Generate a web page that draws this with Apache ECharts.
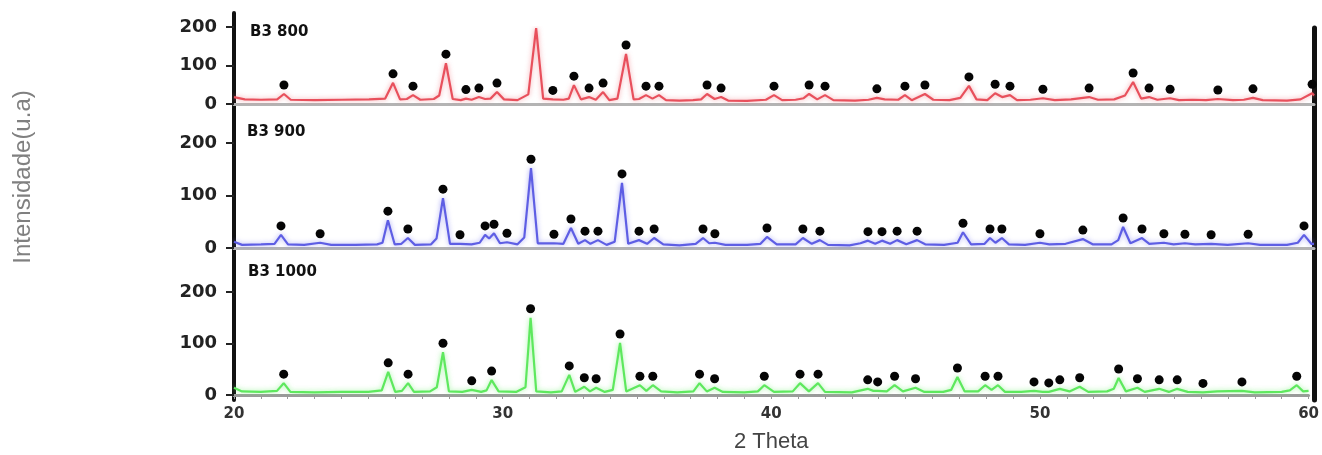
<!DOCTYPE html>
<html>
<head>
<meta charset="utf-8">
<script src="https://cdn.jsdelivr.net/npm/echarts@6/dist/echarts.min.js"></script>
<style>html,body{margin:0;padding:0;background:#fff;}#c{width:1322px;height:455px;}</style>
</head>
<body>
<div id="c"></div>
<script>
// ---- data ----
const panelNames = ['B3 800', 'B3 900', 'B3 1000'];
const yTicks = [0, 100, 200];
const xTickLabels = [20, 30, 40, 50, 60];

const profile800 = [[20.0,18],[20.4,12],[21.0,11],[21.6,12],[21.85,26],[22.1,11],[23,10],[24,11],[25,12],[25.6,14],[25.89,55],[26.15,12],[26.4,13],[26.63,23],[26.9,11],[27.4,13],[27.6,22],[27.85,106],[28.1,13],[28.4,10],[28.59,14],[28.8,11],[29.07,18],[29.3,13],[29.5,14],[29.74,31],[30.0,12],[30.5,10],[30.9,25],[31.19,197],[31.45,14],[31.81,12],[32.2,11],[32.4,14],[32.59,49],[32.85,12],[33.15,18],[33.4,11],[33.67,31],[33.9,10],[34.2,14],[34.52,130],[34.8,12],[35.0,13],[35.26,23],[35.5,14],[35.74,23],[36.0,10],[36.5,9],[37.0,10],[37.3,12],[37.52,26],[37.8,13],[38.04,18],[38.3,9],[39,8],[39.7,11],[40.0,23],[40.3,10],[40.8,11],[41.1,15],[41.30,26],[41.6,12],[41.89,23],[42.2,10],[43,9],[43.5,11],[43.81,16],[44.1,12],[44.6,11],[44.85,23],[45.1,10],[45.59,26],[45.9,11],[46.5,10],[46.9,16],[47.22,47],[47.5,12],[47.9,10],[48.19,28],[48.45,18],[48.74,23],[49.0,10],[49.5,11],[49.96,15],[50.4,10],[51,12],[51.67,18],[52.0,11],[52.6,12],[53.0,22],[53.30,57],[53.6,14],[53.89,18],[54.2,11],[54.67,15],[55.0,10],[55.5,11],[56,10],[56.44,13],[57,10],[57.4,11],[57.74,16],[58.1,10],[59,9],[59.5,12],[59.93,28],[60,22]];
const markers800 = [[21.85,26],[25.89,55],[26.63,23],[27.85,106],[28.59,14],[29.07,18],[29.74,31],[31.81,12],[32.59,49],[33.15,18],[33.67,31],[34.52,130],[35.26,23],[35.74,23],[37.52,26],[38.04,18],[40.0,23],[41.30,26],[41.89,23],[43.81,16],[44.85,23],[45.59,26],[47.22,47],[48.19,28],[48.74,23],[49.96,15],[51.67,18],[53.30,57],[53.89,18],[54.67,15],[56.44,13],[57.74,16],[59.93,28]];

const profile900 = [[20.0,12],[20.3,6],[21.0,7],[21.5,8],[21.74,25],[22.0,7],[22.6,6],[23.19,10],[23.6,6],[24.5,6],[25.3,7],[25.5,10],[25.70,53],[25.95,7],[26.2,8],[26.44,19],[26.7,6],[27.3,7],[27.5,18],[27.74,95],[28.0,8],[28.37,8],[28.8,7],[29.1,10],[29.30,25],[29.45,18],[29.63,28],[29.85,9],[30.11,11],[30.5,7],[30.75,20],[31.0,152],[31.25,9],[31.85,9],[32.2,8],[32.48,38],[32.75,8],[33.0,15],[33.2,8],[33.48,15],[33.8,6],[34.1,12],[34.37,124],[34.6,8],[35.0,15],[35.3,8],[35.56,19],[35.9,7],[36.5,5],[37.1,8],[37.37,19],[37.6,9],[37.81,10],[38.2,6],[39,6],[39.5,8],[39.74,21],[40.1,7],[40.8,7],[41.07,19],[41.4,8],[41.70,15],[42.0,6],[42.8,5],[43.2,9],[43.48,14],[43.75,8],[44.0,14],[44.3,8],[44.56,15],[44.9,7],[45.30,15],[45.6,7],[46.3,6],[46.8,10],[47.0,30],[47.3,7],[47.8,8],[48.0,19],[48.2,10],[48.44,19],[48.7,7],[49.3,6],[49.85,10],[50.2,7],[50.8,8],[51.44,17],[51.8,7],[52.5,7],[52.75,15],[52.93,40],[53.2,9],[53.63,19],[53.9,8],[54.44,10],[54.8,7],[55.22,9],[55.6,7],[56.19,8],[56.8,6],[57.56,9],[58,6],[59,6],[59.4,10],[59.63,25],[59.9,8],[60,8]];
const markers900 = [[21.74,25],[23.19,10],[25.70,53],[26.44,19],[27.74,95],[28.37,8],[29.30,25],[29.63,28],[30.11,11],[31.0,152],[31.85,9],[32.48,38],[33.0,15],[33.48,15],[34.37,124],[35.0,15],[35.56,19],[37.37,19],[37.81,10],[39.74,21],[41.07,19],[41.70,15],[43.48,14],[44.0,14],[44.56,15],[45.30,15],[47.0,30],[48.0,19],[48.44,19],[49.85,10],[51.44,17],[52.93,40],[53.63,19],[54.44,10],[55.22,9],[56.19,8],[57.56,9],[59.63,25]];

const profile1000 = [[20.0,14],[20.3,7],[21.0,6],[21.6,8],[21.85,23],[22.1,6],[23,5],[24,6],[25,6],[25.5,9],[25.74,45],[26.0,6],[26.25,8],[26.48,23],[26.7,6],[27.3,7],[27.55,15],[27.78,83],[28.0,7],[28.5,6],[28.85,10],[29.2,6],[29.4,9],[29.59,29],[29.85,7],[30.5,6],[30.85,15],[31.04,150],[31.25,7],[31.8,5],[32.2,7],[32.48,39],[32.7,6],[33.04,16],[33.25,7],[33.48,14],[33.8,6],[34.1,10],[34.37,101],[34.6,7],[35.11,19],[35.35,8],[35.59,19],[35.9,7],[36.5,5],[37.1,7],[37.33,23],[37.6,7],[37.89,14],[38.2,6],[39,5],[39.5,7],[39.74,19],[40.1,6],[40.8,7],[41.07,23],[41.4,7],[41.74,23],[42.0,6],[43,5],[43.59,12],[43.8,8],[43.96,8],[44.3,7],[44.59,19],[44.9,7],[45.37,14],[45.7,6],[46.4,6],[46.7,10],[46.93,35],[47.2,7],[47.7,7],[47.96,19],[48.2,10],[48.44,19],[48.7,6],[49.3,6],[49.78,8],[50.1,6],[50.33,6],[50.74,12],[51.1,7],[51.48,16],[51.8,6],[52.5,7],[52.75,12],[52.93,33],[53.2,7],[53.63,14],[53.9,6],[54.44,12],[54.8,6],[55.11,12],[55.5,6],[56.07,5],[56.6,7],[57.52,8],[58,5],[59,6],[59.3,9],[59.56,19],[59.8,7],[60,8]];
const markers1000 = [[21.85,23],[25.74,45],[26.48,23],[27.78,83],[28.85,10],[29.59,29],[31.04,150],[32.48,39],[33.04,16],[33.48,14],[34.37,101],[35.11,19],[35.59,19],[37.33,23],[37.89,14],[39.74,19],[41.07,23],[41.74,23],[43.59,12],[43.96,8],[44.59,19],[45.37,14],[46.93,35],[47.96,19],[48.44,19],[49.78,8],[50.33,6],[50.74,12],[51.48,16],[52.93,33],[53.63,14],[54.44,12],[55.11,12],[56.07,5],[57.52,8],[59.56,19]];

// ---- chart ----
const profiles = [profile800, profile900, profile1000];
const markers = [markers800, markers900, markers1000];
const colors = ['#e8505c', '#5e5ee4', '#5ee85e'];
const halo = ['rgba(240,120,130,0.7)', 'rgba(130,130,240,0.7)', 'rgba(120,240,120,0.7)'];
const gridsPos = [{top: 27, height: 77}, {top: 143, height: 105}, {top: 292, height: 103}];
const L = 234, R = 8;
const FONT = 'DejaVu Sans';

const grid = gridsPos.map(g => ({left: L, right: R, top: g.top, height: g.height}));
grid.push({left: L, right: R, top: 13, height: 387});   // left frame
grid.push({left: L, right: R, top: 28, height: 372});   // right frame

const xAxis = gridsPos.map((g, i) => ({
  type: 'value', gridIndex: i, min: xTickLabels[0], max: xTickLabels[xTickLabels.length - 1], interval: 1,
  axisLine: {show: true, onZero: false, lineStyle: {color: i === 2 ? '#9a9a9a' : '#b4b4b4', width: 3}},
  axisTick: {show: i === 2, length: 4, lineStyle: {color: '#999', width: 1}},
  axisLabel: {show: i === 2, margin: 12, fontFamily: FONT, fontWeight: 'bold', fontSize: 15, color: '#333',
    formatter: v => (xTickLabels.indexOf(v) >= 0 ? String(v) : '')},
  splitLine: {show: false},
  name: i === 2 ? '2 Theta' : '', nameLocation: 'middle', nameGap: 36,
  nameTextStyle: {fontFamily: 'Liberation Sans', fontSize: 22, color: '#444'}
}));
xAxis.push({type: 'value', gridIndex: 3, min: 0, max: 1, show: false});
xAxis.push({type: 'value', gridIndex: 4, min: 0, max: 1, show: false});

const yAxis = gridsPos.map((g, i) => ({
  type: 'value', gridIndex: i, min: yTicks[0], max: yTicks[yTicks.length - 1], interval: 100,
  axisLine: {show: false},
  axisTick: {show: true, inside: false, length: 8, lineStyle: {color: '#222', width: 2}},
  axisLabel: {margin: 17, fontFamily: FONT, fontWeight: 'bold', fontSize: 18, color: '#222'},
  splitLine: {show: false}
}));
yAxis.push({type: 'value', gridIndex: 3, min: 0, max: 1, position: 'left',
  axisLine: {show: true, onZero: false, lineStyle: {color: '#111', width: 4}}, axisTick: {show: false}, axisLabel: {show: false}, splitLine: {show: false}});
yAxis.push({type: 'value', gridIndex: 4, min: 0, max: 1, position: 'right',
  axisLine: {show: true, onZero: false, lineStyle: {color: '#111', width: 5}}, axisTick: {show: false}, axisLabel: {show: false}, splitLine: {show: false}});

const series = [];
profiles.forEach((p, i) => {
  series.push({
    type: 'line', xAxisIndex: i, yAxisIndex: i, data: p, showSymbol: false, smooth: false,
    lineStyle: {color: colors[i], width: 2.2, shadowColor: halo[i], shadowBlur: 5},
    z: 2, animation: false
  });
  series.push({
    type: 'scatter', xAxisIndex: i, yAxisIndex: i, data: markers[i], symbol: 'circle', symbolSize: 9,
    symbolOffset: [0, -9], itemStyle: {color: '#050505', opacity: 1}, z: 3, animation: false
  });
});

const chart = echarts.init(document.getElementById('c'), null, {renderer: 'canvas'});
chart.setOption({
  animation: false,
  backgroundColor: '#fff',
  grid, xAxis, yAxis, series,
  graphic: [
    {type: 'text', x: 250, y: 32, style: {text: panelNames[0], fontFamily: FONT, fontWeight: 'bold', fontSize: 15, fill: '#111', align: 'left', verticalAlign: 'middle'}},
    {type: 'text', x: 247, y: 132, style: {text: panelNames[1], fontFamily: FONT, fontWeight: 'bold', fontSize: 15, fill: '#111', align: 'left', verticalAlign: 'middle'}},
    {type: 'text', x: 248, y: 272, style: {text: panelNames[2], fontFamily: FONT, fontWeight: 'bold', fontSize: 15, fill: '#111', align: 'left', verticalAlign: 'middle'}},
    {type: 'text', x: 24, y: 177, rotation: Math.PI / 2, scaleX: 1.2, scaleY: 1.15,
      style: {text: 'Intensidade(u.a)', fontFamily: 'Liberation Sans', fontSize: 20, fill: '#808080', align: 'center', verticalAlign: 'middle'}}
  ]
});
</script>
</body>
</html>
